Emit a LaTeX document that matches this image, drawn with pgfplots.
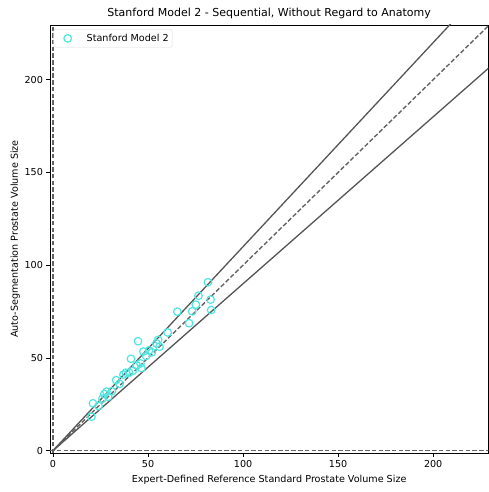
\documentclass[border=0pt]{standalone}
\usepackage{fontspec}
\setmainfont{DejaVu Sans}
\usepackage{pgfplots}
\pgfplotsset{compat=1.18}

\definecolor{ptcyan}{RGB}{80,230,225}
\definecolor{refline}{RGB}{85,85,85}
\definecolor{dashline}{RGB}{100,100,100}

\begin{document}
\begin{tikzpicture}
\begin{axis}[
    name=main,
    scale only axis,
    width=438.3pt, height=428pt,
    xmin=-1.6, xmax=229, ymin=-1.3, ymax=229.5,
    xtick={0,50,100,150,200}, ytick={0,50,100,150,200},
    tick align=outside, tick pos=left,
    major tick length=3.5pt,
    tick style={black, line width=0.6pt},
    axis line style={black, line width=0.7pt},
    /pgf/number format/assume math mode=true,
    ticklabel style={font=\fontsize{9.6}{11}\selectfont},
    title={Stanford Model 2 - Sequential, Without Regard to Anatomy},
    title style={font=\fontsize{11}{13}\selectfont, yshift=-3.5pt},
    xlabel={Expert-Defined Reference Standard Prostate Volume Size},
    ylabel={Auto-Segmentation Prostate Volume Size},
    label style={font=\fontsize{9.6}{11}\selectfont},
    xlabel style={yshift=-1pt},
    ylabel style={yshift=-2pt},
    legend style={font=\fontsize{9.6}{11}\selectfont, draw=black!15,
        rounded corners=2pt, at={(0.008,0.99)}, anchor=north west,
        inner xsep=1.5pt, inner ysep=2.5pt},
    legend cell align=left,
    legend image code/.code={
        \path[draw=none,fill=none] (0pt,-3pt) rectangle (29.5pt,3pt);
        \draw[#1] plot coordinates {(12.5pt,0pt)};},
    clip=true,
]
\addplot[only marks, mark=o, mark size=3.8pt,
    mark options={draw=ptcyan, line width=1.2pt}]
coordinates {
    (20.2,18.3) (21.0,25.5) (24.0,24.0) (26.0,28.0) (27.0,30.5)
    (28.1,31.8) (29.0,29.0) (31.0,32.0) (33.2,38.0) (35.0,36.0)
    (37.0,41.0) (38.3,42.0) (40.0,42.0) (41.0,49.5) (42.0,43.0)
    (44.7,59.0) (44.0,46.0) (46.5,44.5) (46.0,47.0) (47.5,53.4)
    (49.0,51.0) (50.5,54.0) (52.0,53.0) (54.4,57.8) (55.3,59.7)
    (56.0,56.0) (60.3,63.7) (65.4,74.9) (71.6,68.7) (73.2,75.1)
    (75.1,78.7) (76.5,83.5) (81.5,90.8) (82.9,81.4) (83.2,75.8)
};
\addlegendentry{Stanford Model 2}
% identity line and +/- 10% bounds
\addplot[dashline, line width=1.4pt, dash pattern=on 4.5pt off 2.2pt, forget plot]
    coordinates {(0,0) (240,240)};
\addplot[refline, line width=1.3pt, forget plot]
    coordinates {(0,0) (240,264)};
\addplot[refline, line width=1.3pt, forget plot]
    coordinates {(0,0) (240,216)};
% zero lines
\addplot[dashline, line width=1.4pt, dash pattern=on 4.5pt off 2.2pt, forget plot]
    coordinates {(0,-5) (0,240)};
\addplot[dashline, line width=1.4pt, dash pattern=on 4.5pt off 2.2pt, forget plot]
    coordinates {(-5,0) (240,0)};
\end{axis}
\pgfresetboundingbox
\path[use as bounding box] ([xshift=-50pt,yshift=-39pt]main.south west)
    rectangle ([xshift=0.7pt,yshift=25pt]main.north east);
\end{tikzpicture}
\end{document}
